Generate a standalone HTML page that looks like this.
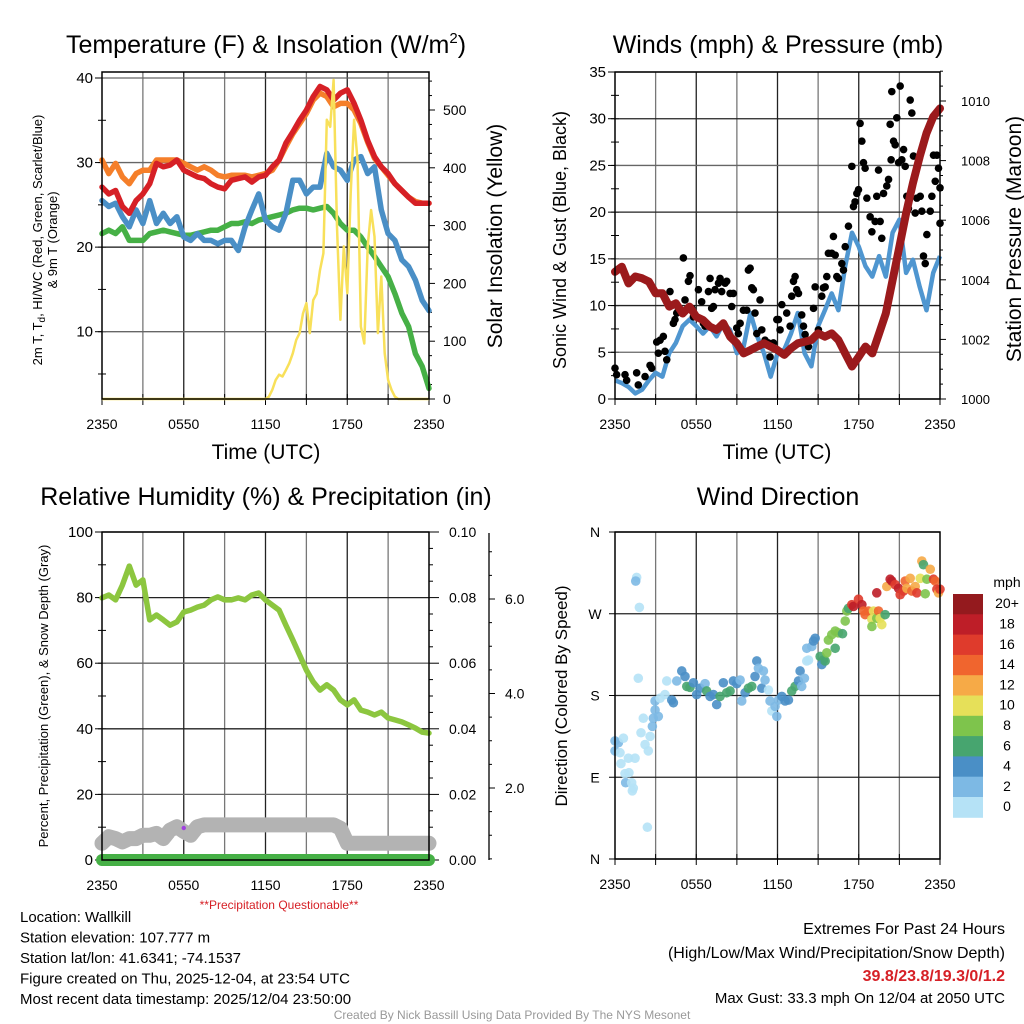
<!DOCTYPE html>
<html><head><meta charset="utf-8"><style>
body{margin:0;background:#fff;width:1024px;height:1024px;overflow:hidden;font-family:"Liberation Sans",sans-serif}
svg{display:block}
</style></head><body>
<svg id="c" width="1024" height="1024" viewBox="0 0 1024 1024" xmlns="http://www.w3.org/2000/svg" font-family="Liberation Sans, sans-serif"></svg>
<script>
// ---------- DATA ----------
const halfHours = Array.from({length:49},(_,i)=>i*0.5);
const xTickLabels = ["2350","0550","1150","1750","2350"];
const tempRed = [27.1,26.3,26.7,24.8,24.0,25.5,26.3,27.5,29.9,29.5,29.7,30.3,29.1,28.7,28.3,28.1,27.5,27.1,26.9,27.9,28.1,28.3,27.7,28.3,28.5,29.5,30.3,32.3,33.6,35.0,36.2,37.8,39.0,38.6,37.4,38.2,38.6,37.0,35.0,32.6,30.7,29.5,28.7,27.5,26.7,25.9,25.2,25.2,25.2];
const tempOrange = [30.3,28.7,29.9,28.3,27.5,28.7,29.1,29.1,30.3,30.3,30.3,30.3,29.9,29.5,29.1,29.5,29.1,28.5,28.3,28.5,28.5,28.5,28.3,28.5,28.7,29.1,30.3,31.9,33.4,34.6,35.8,37.4,38.2,37.8,36.6,37.0,37.0,36.2,34.6,32.4,30.5,29.5,28.5,27.5,26.7,25.9,25.4,25.2,25.2];
const tempBlue = [25.5,24.8,25.2,23.6,22.4,24.4,22.8,25.5,22.8,24.0,22.8,23.6,21.2,20.8,21.6,20.8,20.8,20.4,20.8,20.8,19.6,22.4,24.4,26.3,23.2,22.4,22.0,24.0,27.9,27.9,26.3,27.1,27.1,31.1,29.5,29.1,27.9,30.3,30.7,28.7,29.5,24.4,21.6,20.8,18.5,17.7,16.1,13.7,12.5];
const tempGreen = [21.6,22.0,21.6,22.4,20.8,20.8,20.8,21.6,21.8,22.0,21.8,21.6,21.4,21.4,21.6,21.8,22.0,22.0,22.4,22.8,22.8,23.0,22.8,23.2,23.4,23.6,23.8,24.0,24.4,24.6,24.6,24.4,24.6,24.8,24.0,22.8,22.0,22.0,21.2,20.0,18.9,17.7,16.5,14.5,12.2,10.6,7.4,5.9,3.3];
const solarHours = [0,12,12.25,12.5,12.75,13,13.25,13.5,13.75,14,14.25,14.5,14.75,15,15.25,15.5,15.75,16,16.25,16.5,16.75,17,17.25,17.5,17.75,18,18.25,18.5,18.75,19,19.25,19.5,19.75,20,20.25,20.5,20.75,21,21.25,21.5,21.75,24];
const solarVals = [0,0,4,16,33,42,39,50,62,79,102,114,148,166,114,171,182,223,252,483,471,552,298,137,264,183,356,483,414,125,96,264,327,281,114,212,79,33,16,4,0,0];
const windSpeed = [2.0,1.7,1.3,0.6,1.0,2.0,2.8,2.4,4.9,6.0,7.8,8.5,7.8,7.0,7.8,6.7,8.1,7.4,4.9,5.6,9.2,6.7,4.9,2.4,4.9,5.3,7.0,9.2,4.9,3.5,7.8,9.5,11.3,9.5,14.2,17.8,16.3,14.2,13.1,15.3,13.1,17.8,19.2,13.5,14.9,12.0,9.5,13.5,15.3];
const pressure = [1004.27,1004.44,1003.88,1004.11,1004.05,1003.94,1003.55,1003.55,1003.1,1003.21,1002.87,1003.1,1002.76,1002.65,1002.43,1002.32,1002.54,1002.09,1001.87,1001.53,1001.64,1001.76,1001.87,1001.76,1001.64,1001.48,1001.7,1001.87,1001.92,1001.98,1002.2,1002.09,1002.2,1001.98,1001.53,1001.09,1001.42,1001.76,1001.53,1002.2,1002.87,1003.99,1005.11,1006.23,1007.24,1008.13,1008.92,1009.47,1009.75];
const gustHours = [0,0.12,0.74,0.86,1.6,1.72,2.22,2.59,2.71,3.08,3.2,3.33,3.57,3.69,3.82,4.06,4.31,4.43,4.56,4.68,4.8,5.05,5.17,5.42,5.54,5.67,5.79,6.16,6.4,6.53,6.65,6.9,7.02,7.14,7.27,7.39,7.64,7.76,7.88,8.13,8.25,8.5,8.62,8.74,8.99,9.11,9.24,9.48,9.73,9.85,9.98,10.1,10.22,10.34,10.47,10.71,10.84,11.08,11.33,11.45,11.7,11.95,12.07,12.19,12.32,12.68,12.93,13.05,13.18,13.3,13.42,13.55,13.79,13.92,14.04,14.29,14.66,14.78,15.02,15.27,15.39,15.52,15.64,15.76,16.01,16.13,16.26,16.38,16.5,16.75,16.87,17.0,17.24,17.49,17.61,17.73,17.86,17.98,18.1,18.23,18.35,18.47,18.6,18.84,18.97,19.21,19.33,19.46,19.58,19.7,19.83,20.07,20.2,20.32,20.39,20.44,20.57,20.69,20.81,20.94,21.06,21.18,21.31,21.43,21.55,21.67,21.8,21.92,22.04,22.17,22.29,22.54,22.66,22.78,22.91,23.03,23.28,23.4,23.52,23.65,23.77,23.89,24,24];
const gustSpeeds = [3.3,2.6,2.6,2.0,2.8,1.5,2.4,3.6,3.3,6.1,4.9,6.3,6.7,5.1,4.2,11.5,8.1,8.5,9.2,9.5,9.6,15.1,10.6,12.6,13.2,9.7,8.8,11.7,10.4,8.1,7.8,11.5,12.9,9.7,9.9,11.7,12.4,12.9,11.5,12.4,12.6,11.3,9.9,11.3,7.6,7.0,8.1,9.5,9.5,13.8,14.0,11.9,11.7,9.2,7.0,10.6,7.4,6.3,6.0,4.5,6.0,8.5,8.5,7.4,10.1,9.2,7.8,11.0,12.6,13.1,11.7,11.3,9.0,7.8,6.9,5.6,9.7,12.0,7.4,11.0,11.9,12.0,13.1,15.6,15.6,17.4,15.4,13.1,12.9,14.5,13.8,16.3,18.5,24.9,20.6,21.1,22.0,22.4,29.5,27.6,25.3,24.7,21.5,19.5,17.9,19.0,21.7,24.5,19.0,17.2,22.0,22.8,23.5,29.4,25.6,32.9,27.6,27.2,30.1,25.3,33.5,25.6,26.7,24.9,21.7,20.4,32.0,30.6,26.0,19.9,21.5,21.7,20.1,15.3,14.5,17.6,20.1,21.7,26.1,23.3,26.1,24.7,22.6,18.8];
const rhVals = [79.9,80.8,79.3,83.8,89.6,83.8,85.4,73.2,74.7,73.2,71.6,72.6,75.6,76.2,77.1,77.7,79.3,80.2,79.3,79.3,79.9,79.3,80.8,81.4,79.3,77.7,76.2,71.6,67.1,62.5,57.9,54.3,51.8,53.4,51.8,48.8,47.3,48.8,45.7,45.1,44.2,45.1,43.3,42.7,42.1,41.2,40.2,39.0,38.7];
const snowDepth = [0.83,0.97,0.93,0.86,0.93,0.93,1.0,1.0,1.04,0.93,1.11,1.18,1.08,1.0,1.18,1.22,1.22,1.22,1.22,1.22,1.22,1.22,1.22,1.22,1.22,1.22,1.22,1.22,1.22,1.22,1.22,1.22,1.22,1.22,1.22,1.15,0.83,0.83,0.83,0.83,0.83,0.83,0.83,0.83,0.83,0.83,0.83,0.83,0.83];
const precipVals = new Array(49).fill(0);
const dirHours = [1.60,1.53,1.80,1.72,3.82,0,0.25,0,0.37,0.62,0.44,0.99,1.48,0.74,1.03,0.79,1.23,1.35,1.28,2.39,1.92,2.09,2.22,2.46,2.59,2.76,2.83,2.96,3.20,2.96,3.33,3.69,4.19,4.31,4.56,4.93,5.17,5.30,5.54,5.79,6.03,6.28,6.65,6.77,7.02,7.27,7.51,7.76,8.0,8.25,8.50,8.74,8.99,9.24,9.36,9.61,9.85,10.10,10.34,10.47,10.59,10.84,10.96,11.08,11.33,11.45,11.58,11.82,11.95,12.07,12.32,12.56,12.81,13.05,13.30,13.55,13.67,13.79,13.99,14.16,14.29,14.16,14.53,14.78,14.66,15.15,15.39,15.27,15.52,15.64,15.76,16.01,16.26,16.50,16.26,16.80,17.0,17.12,17.24,17.49,17.61,17.98,18.23,18.35,18.47,18.72,18.97,18.97,19.09,19.33,19.46,19.58,19.70,19.95,19.33,20.07,20.32,20.44,20.69,20.94,21.06,21.31,21.43,21.55,21.80,21.92,22.17,22.29,22.54,22.66,22.78,22.91,23.03,23.28,23.52,23.65,23.77,23.89,24];
const dirDegs = [310,306,277,199,196,130,128,119,117,133,105,111,111,94,95,84,84,78,75,35,139,155,126,119,135,146,155,164,157,174,177,181,175,172,196,207,201,190,189,194,181,188,193,185,179,181,170,179,194,183,185,196,193,197,174,183,188,190,201,218,210,188,207,197,186,174,163,168,157,175,179,174,175,185,190,196,207,190,199,218,219,232,234,243,240,223,219,214,218,227,241,247,251,249,232,248,262,273,276,280,278,286,280,273,269,273,264,256,273,265,273,265,258,269,293,300,308,306,302,298,291,295,306,298,309,295,300,293,309,328,324,292,308,319,308,306,297,293,297];
const dirSpeeds = [1,3,1,1,1,3,3,3,1,1,1,1,1,1,1,3,1,1,1,1,1,1,1,1,1,3,3,3,3,3,1,1,5,5,3,5,5,7,7,5,5,5,3,7,5,5,5,7,5,7,7,5,5,3,3,5,7,7,5,5,3,5,3,3,1,3,1,3,3,3,5,5,5,7,7,5,5,3,3,1,1,3,3,5,5,7,7,5,7,9,9,9,9,9,7,7,9,9,7,17,19,17,19,15,15,15,11,9,11,9,15,11,11,7,19,13,19,19,17,19,17,17,15,13,13,15,13,17,11,13,7,9,9,13,17,15,17,13,17];
const speedBins = [0,2,4,6,8,10,12,14,16,18,20];
const binColors = ["#b5e2f6","#7db9e4","#4a8fc6","#47a56f","#7ec44c","#e6e059","#f6aa47","#f0652e","#df3b2c","#be1e28","#941a1e"];
const binLabels = ["0","2","4","6","8","10","12","14","16","18","20+"];

// ---------- HELPERS ----------
const svg = document.getElementById('c');
const NS = 'http://www.w3.org/2000/svg';
function mk(tag, attrs, parent){ const e=document.createElementNS(NS,tag); for(const k in attrs) e.setAttribute(k,attrs[k]); (parent||svg).appendChild(e); return e; }
function txt(s, x, y, size, anchor, parent, extra){ const t=mk('text',Object.assign({x:x,y:y,'font-size':size,'text-anchor':anchor||'middle',fill:'#000'},extra||{}),parent); t.textContent=s; return t; }
function lin(d0,d1,p0,p1){ return v=>p0+(v-d0)/(d1-d0)*(p1-p0); }
function pathFrom(xs, ys, xf, yf){ return xs.map((x,i)=>(i?'L':'M')+xf(x).toFixed(1)+','+yf(ys[i]).toFixed(1)).join(''); }

function panelFrame(g, L, T, R, B, xf){
  for(let h=3; h<24; h+=3){ const l=mk('line',{x1:xf(h),x2:xf(h),y1:T,y2:B,stroke:(h%6===0?'#222':'#777'),'stroke-width':1.3},g);
      }
  for(let h=0; h<=24; h+=3){ mk('line',{x1:xf(h),x2:xf(h),y1:B-5,y2:B+6,stroke:'#000','stroke-width':1},g); }
  xTickLabels.forEach((s,i)=>{ const t=txt(s, xf(i*6), B+30, 14, 'middle', g);
      });
}
function leftTicks(g,L,yf,v0,v1,step){ for(let v=v0; v<=v1+1e-9; v+=step){ mk('line',{x1:L-4,x2:L+4,y1:yf(v),y2:yf(v),stroke:'#000'},g); } }
function frameRect(g,L,T,R,B){ mk('rect',{x:L,y:T,width:R-L,height:B-T,fill:'none',stroke:'#000','stroke-width':1.5},g); }

// ================= PANEL 1 =================
(function(){
  const g = mk('g',{});  
  const L=102,R=429,T=72,B=399;
  const xf = lin(0,24,L,R);
  const yT = lin(10,40,331.7,78);
  const yS = lin(0,500,399,110);
  panelFrame(g,L,T,R,B,xf);
  leftTicks(g,L,yT,5,40,5);
  [10,20,30,40].forEach(v=>{ mk('line',{x1:L,x2:R,y1:yT(v),y2:yT(v),stroke:(v===20?'#111':'#666'),'stroke-width':1.3},g);
    mk('line',{x1:L-7,x2:L,y1:yT(v),y2:yT(v),stroke:'#000'},g);
    const t=txt(String(v),L-9,yT(v)+5,15,'end',g);   });
  for(let v=0; v<=550; v+=25){ const big=v%100===0; mk('line',{x1:R,x2:R+(big?6:3),y1:yS(v),y2:yS(v),stroke:'#000'},g); }
  [0,100,200,300,400,500].forEach(v=>{ const t=txt(String(v),R+14,yS(v)+5,14,'start',g);   });
  const series=[['green-dewpoint-line',tempGreen,'#46b046'],['blue-windchill-line',tempBlue,'#4a8fc6'],['orange-9m-temp-line',tempOrange,'#f57f2a'],['red-2m-temp-line',tempRed,'#d62026']];
  series.forEach(s=>{ const p=mk('path',{d:pathFrom(halfHours,s[1],xf,yT),fill:'none',stroke:s[2],'stroke-width':5.5,'stroke-linejoin':'round','stroke-linecap':'round'},g);
      });
  const sp=mk('path',{d:pathFrom(solarHours,solarVals,xf,yS),fill:'none',stroke:'#f8e05a','stroke-width':2.5,'stroke-linejoin':'round'},g);
   
  frameRect(g,L,T,R,B);
  const t1=txt('',266,53,25,'middle',g); t1.innerHTML='Temperature (F) &amp; Insolation (W/m<tspan dy="-10" font-size="15">2</tspan><tspan dy="10">)</tspan>';
   
  const yl=mk('text',{transform:'translate(42,240) rotate(-90)','font-size':13,'text-anchor':'middle'},g);
  yl.innerHTML='2m T, T<tspan dy="3" font-size="10">d</tspan><tspan dy="-3">, HI/WC (Red, Green, Scarlet/Blue)</tspan>';
   
  const yl2=mk('text',{transform:'translate(57,240) rotate(-90)','font-size':13,'text-anchor':'middle'},g); yl2.textContent='& 9m T (Orange)';
   
  const yr=mk('text',{transform:'translate(502,236) rotate(-90)','font-size':21,'text-anchor':'middle'},g); yr.textContent='Solar Insolation (Yellow)';
   
  const xt=txt('Time (UTC)',266,459,21,'middle',g);  
})();

// ================= PANEL 2 =================
(function(){
  const g = mk('g',{});  
  const L=615,R=940,T=72,B=399;
  const xf = lin(0,24,L,R);
  const yW = lin(0,35,399,72);
  const yP = lin(1000,1010,399,101);
  panelFrame(g,L,T,R,B,xf);
  leftTicks(g,L,yW,0,35,2.5);
  for(let v=0; v<=35; v+=5){ mk('line',{x1:L,x2:R,y1:yW(v),y2:yW(v),stroke:(v%10===0?'#222':'#666'),'stroke-width':1.3},g);
    mk('line',{x1:L-7,x2:L,y1:yW(v),y2:yW(v),stroke:'#000'},g);
    const t=txt(String(v),L-9,yW(v)+5,15,'end',g);   }
  for(let v=1000; v<=1011; v+=0.5){ const big=v%2===0; mk('line',{x1:R,x2:R+(big?6:3),y1:yP(v),y2:yP(v),stroke:'#000'},g); }
  [1000,1002,1004,1006,1008,1010].forEach(v=>{ const t=txt(String(v),R+21,yP(v)+5,13,'start',g);   });
  const wp=mk('path',{d:pathFrom(halfHours,windSpeed,xf,yW),fill:'none',stroke:'#4f96d0','stroke-width':4.5,'stroke-linejoin':'round'},g);
   
  gustHours.forEach((h,i)=>{ const c=mk('circle',{cx:xf(h),cy:yW(gustSpeeds[i]),r:3.8,fill:'#000'},g);
      });
  const pp=mk('path',{d:pathFrom(halfHours,pressure,xf,yP),fill:'none',stroke:'#9b1a1c','stroke-width':8,'stroke-linejoin':'round','stroke-linecap':'round'},g);
   
  frameRect(g,L,T,R,B);
  const t1=txt('Winds (mph) & Pressure (mb)',778,53,25,'middle',g);  
  const yl=mk('text',{transform:'translate(566,240) rotate(-90)','font-size':18,'text-anchor':'middle'},g); yl.textContent='Sonic Wind & Gust (Blue, Black)';
   
  const yr=mk('text',{transform:'translate(1021,239) rotate(-90)','font-size':21,'text-anchor':'middle'},g); yr.textContent='Station Pressure (Maroon)';
   
  const xt=txt('Time (UTC)',777,459,21,'middle',g);  
})();

// ================= PANEL 3 =================
(function(){
  const g = mk('g',{});  
  const L=102,R=429,T=532,B=860;
  const xf = lin(0,24,L,R);
  const yR = lin(0,100,860,532);
  const yPr = lin(0,0.10,860,532);
  const ySn = lin(0,6,882.5,599);
  panelFrame(g,L,T,R,B,xf);
  leftTicks(g,L,yR,0,100,10);
  for(let v=0; v<=100; v+=20){ mk('line',{x1:L,x2:R,y1:yR(v),y2:yR(v),stroke:(v%40===0?'#222':'#666'),'stroke-width':1.3},g);
    mk('line',{x1:L-7,x2:L,y1:yR(v),y2:yR(v),stroke:'#000'},g);
    const t=txt(String(v),L-9,yR(v)+5,15,'end',g);   }
  for(let v=0; v<=0.1001; v+=0.005){ const big=Math.round(v*1000)%20===0; mk('line',{x1:R,x2:R+(big?10:4),y1:yPr(v),y2:yPr(v),stroke:'#000'},g); }
  [0,0.02,0.04,0.06,0.08,0.10].forEach(v=>{ const t=txt(v.toFixed(2),R+20,yPr(v)+5,14,'start',g);   });
  mk('line',{x1:489,x2:489,y1:533,y2:860,stroke:'#000','stroke-width':1.3},g);
  for(let v=0.5; v<=7; v+=0.5){ const y=ySn(v); if(y<533||y>860) continue; const big=v%2===0; mk('line',{x1:489,x2:489+(big?6:3),y1:y,y2:y,stroke:'#000'},g); }
  [2,4,6].forEach(v=>{ const t=txt(v.toFixed(1),505,ySn(v)+5,14,'start',g);   });
  const sp=mk('path',{d:pathFrom(halfHours,snowDepth,xf,ySn),fill:'none',stroke:'#b3b3b3','stroke-width':15,'stroke-linejoin':'round','stroke-linecap':'round'},g);
   
  const pr=mk('path',{d:pathFrom(halfHours,precipVals,xf,yPr),fill:'none',stroke:'#46b046','stroke-width':12,'stroke-linecap':'round'},g);
   
  const rh=mk('path',{d:pathFrom(halfHours,rhVals,xf,yR),fill:'none',stroke:'#8cc63f','stroke-width':5.5,'stroke-linejoin':'round','stroke-linecap':'round'},g);
   
  const pd=mk('circle',{cx:xf(6),cy:828,r:2.2,fill:'#a040e0'},g);  
  frameRect(g,L,T,R,B);
  const t1=txt('Relative Humidity (%) & Precipitation (in)',266,505,25,'middle',g);  
  const yl=mk('text',{transform:'translate(48,696) rotate(-90)','font-size':13,'text-anchor':'middle'},g); yl.textContent='Percent, Precipitation (Green), & Snow Depth (Gray)';
   
  const pq=txt('**Precipitation Questionable**',279,909,12,'middle',g,{fill:'#d62026'});  
})();

// ================= PANEL 4 =================
(function(){
  const g = mk('g',{});  
  const L=615,R=940,T=532,B=859;
  const xf = lin(0,24,L,R);
  const yD = lin(0,360,859,532);
  panelFrame(g,L,T,R,B,xf);
  const dirLabels=['N','E','S','W','N'];
  dirLabels.forEach((s,i)=>{ const v=i*90; mk('line',{x1:L,x2:R,y1:yD(v),y2:yD(v),stroke:'#222','stroke-width':1.3},g);
    mk('line',{x1:L-6,x2:L,y1:yD(v),y2:yD(v),stroke:'#000'},g);
    const t=txt(s,L-20,yD(v)+5,14,'middle',g);   });
  dirHours.forEach((h,i)=>{ let b=Math.min(10,Math.floor(dirSpeeds[i]/2));
    const c=mk('circle',{cx:xf(h),cy:yD(dirDegs[i]),r:4.8,fill:binColors[b],'fill-opacity':0.9},g);
      });
  frameRect(g,L,T,R,B);
  const t1=txt('Wind Direction',778,505,25,'middle',g);  
  const yl=mk('text',{transform:'translate(567,696) rotate(-90)','font-size':17,'text-anchor':'middle'},g); yl.textContent='Direction (Colored By Speed)';
   
  const cb = mk('g',{},g);  
  const bh=20.3, top=594;
  for(let i=10;i>=0;i--){ const y=top+(10-i)*bh;
    const r=mk('rect',{x:953,y:y,width:30,height:bh+0.5,fill:binColors[i]},cb);  
    const t=txt(binLabels[i],1007,y+bh/2+4,14,'middle',cb);   }
  const mu=txt('mph',1007,587,14,'middle',cb);  
})();

// ================= FOOTER TEXT =================
(function(){
  const g = mk('g',{});  
  const lines=['Location: Wallkill','Station elevation: 107.777 m','Station lat/lon: 41.6341; -74.1537','Figure created on Thu, 2025-12-04, at 23:54 UTC','Most recent data timestamp: 2025/12/04 23:50:00'];
  lines.forEach((s,i)=>{ const t=txt(s,20,922+i*20.5,15,'start',g);   });
  const e = mk('g',{});  
  let t=txt('Extremes For Past 24 Hours',1005,934,16,'end',e);  
  t=txt('(High/Low/Max Wind/Precipitation/Snow Depth)',1005,958,16,'end',e);  
  t=txt('39.8/23.8/19.3/0/1.2',1005,981,16,'end',e,{fill:'#d62026','font-weight':'bold'});  
  t=txt('Max Gust: 33.3 mph On 12/04 at 2050 UTC',1005,1003,15,'end',e);  
  t=txt('Created By Nick Bassill Using Data Provided By The NYS Mesonet',512,1019,12,'middle',svg,{fill:'#999'});  
})();
</script>
</body></html>
